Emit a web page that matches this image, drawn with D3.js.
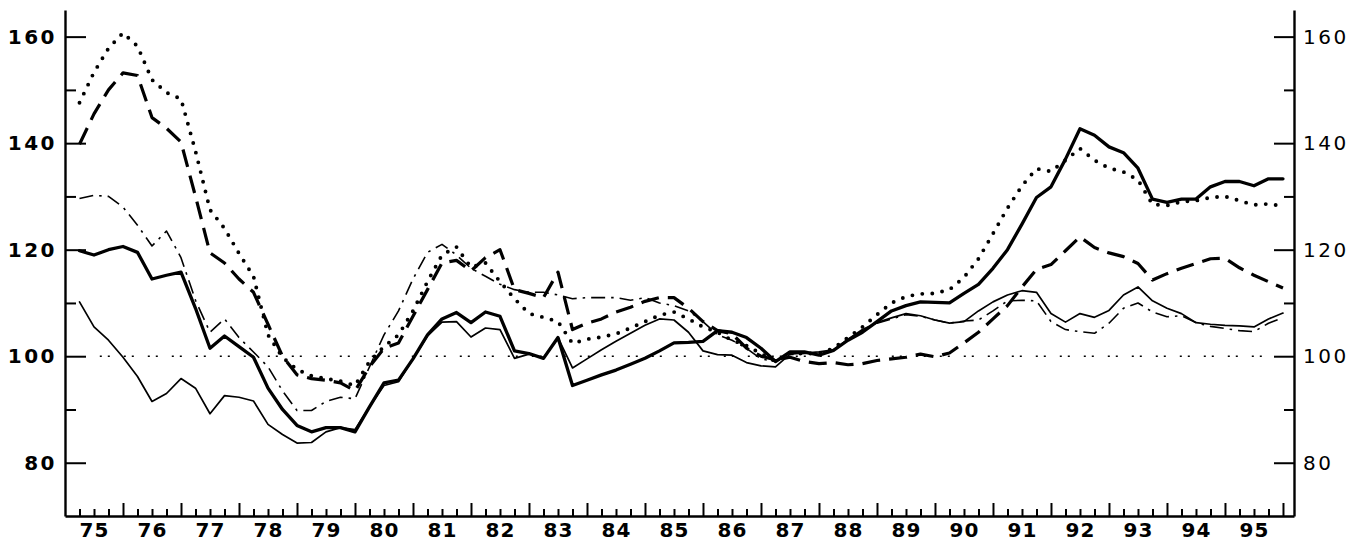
<!DOCTYPE html>
<html>
<head>
<meta charset="utf-8">
<script src="https://cdn.jsdelivr.net/npm/d3@7"></script>
<style>
  html, body { margin: 0; padding: 0; background: #fff; }
  svg { display: block; }
  .axis text { font-family: 'DejaVu Sans', sans-serif; fill: #000; }
</style>
</head>
<body>
<div id="chart"></div>
<script>
// quarterly index values, 75Q1 .. 95Q4 (84 quarters)
const years = ['75', '76', '77', '78', '79', '80', '81', '82', '83', '84', '85',
  '86', '87', '88', '89', '90', '91', '92', '93', '94', '95'];

const thickSolid = [
  119.8, 119.0, 120.0, 120.6, 119.5, 114.5, 115.2, 115.8,
  109, 101.5, 103.8, 101.8, 99.8, 94, 90, 87, 85.8, 86.6, 86.6, 85.8,
  90.5, 95, 95.5, 99.5, 104, 107, 108.2, 106.3, 108.3, 107.5, 101, 100.5,
  99.6, 103.5, 94.5, 95.5, 96.5, 97.4, 98.5, 99.6, 101, 102.5, 102.6, 102.8,
  104.8, 104.5, 103.5, 101.5, 99, 100.8, 100.8, 100.2, 101.1, 103, 104.5, 106.5,
  108.5, 109.5, 110.2, 110.1, 110, 111.8, 113.5, 116.5, 120, 124.8, 129.8, 131.8,
  137, 142.7, 141.5, 139.3, 138.2, 135.3, 129.5, 128.9, 129.5, 129.5, 131.8, 132.8,
  132.8, 132, 133.3, 133.3
];

const thinSolid = [
  110.2, 105.5, 103, 99.8, 96.2, 91.5, 93.0, 95.8,
  94.0, 89.2, 92.6, 92.3, 91.6, 87.2, 85.3, 83.7, 83.8, 85.8, 86.6, 86.2,
  90.5, 94.5, 95.2, 99.5, 103.8, 106.4, 106.5, 103.6, 105.3, 105, 99.6, 100.4,
  99.7, 103.5, 97.8, 99.5, 101.2, 102.8, 104.3, 105.8, 107, 106.8, 104.5, 101,
  100.3, 100.2, 98.8, 98.2, 98.0, 100.4, 100.6, 100.8, 101.2, 103.2, 105, 106.3,
  107.2, 108, 107.6, 106.8, 106.2, 106.5, 108.5, 110.2, 111.5, 112.3, 112, 108,
  106.4, 108, 107.3, 108.6, 111.5, 113, 110.4, 109, 108, 106.3, 106, 105.8,
  105.7, 105.5, 107, 108.1
];

const dotted = [
  147.6, 153.3, 157.8, 160.7, 158.2, 151.9, 149.5, 148.3,
  138.5, 127.5, 124, 119.3, 115, 104, 99.8, 97.5, 96.3, 95.8, 95.3, 94.5,
  99, 101.8, 104, 108.5, 114, 119, 120.5, 116.7, 117.5, 114, 110.8, 108,
  107.3, 106.5, 102.4, 103.2, 103.6, 104.2, 105.3, 106.5, 107.7, 108.3, 107, 105.5,
  104.5, 103, 102, 100.5, 99, 100.5, 100.5, 100.5, 101.5, 103.5, 105.5, 107.8,
  110, 111.2, 111.7, 111.8, 112.5, 114.8, 118.3, 123, 127.8, 132, 135.2, 134.7,
  136.8, 139, 136.8, 135.3, 134.6, 133.1, 128.5, 128.3, 129, 129.2, 129.8, 130,
  129.2, 128.4, 128.6, 128.2
];

const dashed = [
  139.8, 145.5, 150, 153.2, 152.7, 144.8, 142.8, 140.2,
  130, 119.4, 117.5, 114.5, 112, 106, 100, 96.5, 95.8, 95.5, 95, 93.5,
  98, 101.5, 102.5, 107.5, 112.5, 117.5, 118, 116, 118.5, 120, 112.5, 111.8,
  111, 115.8, 105, 106.2, 107, 108.3, 109.2, 110.3, 111, 111, 109, 106.5,
  104.8, 104.2, 101.5, 100, 99.3, 99.8, 99, 98.6, 98.8, 98.4, 98.6, 99.2,
  99.5, 99.8, 100.4, 99.9, 100.6, 102.5, 104.5, 107, 109.5, 113, 116.3, 117.2,
  119.8, 122.4, 120.4, 119.4, 118.7, 117.4, 114.3, 115.5, 116.5, 117.4, 118.3, 118.4,
  116.6, 115.2, 114, 112.8
];

const dashDot = [
  129.6, 130.2, 130, 128, 124.6, 120.7, 123.5, 118.5,
  110.5, 104.5, 107, 103.5, 100.8, 98, 93.5, 89.8, 89.8, 91.5, 92.3, 92,
  98, 104, 108.5, 114.5, 119.5, 121, 119, 116.5, 115, 113.5, 112.5, 112,
  112, 111.5, 110.8, 111, 111, 111, 110.5, 111, 110, 109.5, 108.5, 106.5,
  104, 103, 101.5, 99.5, 99, 100.3, 100.5, 100.5, 101, 103.2, 104.8, 106.2,
  107, 107.8, 107.5, 106.8, 106.2, 106.6, 106.8, 108.5, 110.4, 110.5, 110.4, 106.5,
  105, 104.6, 104.3, 106.2, 109, 110, 108.3, 107.4, 107.6, 106.3, 105.6, 105.2,
  104.8, 104.6, 106.2, 107.2
];

const majorY = [80, 100, 120, 140, 160];
const minorY = [90, 110, 130, 150];

const width = 1369;
const height = 541;

const svg = d3.select('#chart')
  .append('svg')
  .attr('width', width)
  .attr('height', height);

const x = d3.scaleLinear().domain([75, 96.19]).range([65, 1294]);
const y = d3.scaleLinear().domain([70, 165]).range([516, 10]);

// quarter i (0-based index) plotted at end of quarter
const qx = i => x(75 + (i + 1) / 4);

// reference line at 100
svg.append('line')
  .attr('x1', x(75.6))
  .attr('x2', x(95.8))
  .attr('y1', y(100))
  .attr('y2', y(100))
  .attr('stroke', '#000')
  .attr('stroke-width', 1.6)
  .attr('stroke-dasharray', '2 6 2 14');

const line = d3.line()
  .x((d, i) => qx(i))
  .y(d => y(d));

const series = [
  { values: dashDot, width: 1.6, dash: '14 6 2.5 6', cap: 'butt' },
  { values: dashed, width: 3.2, dash: '18 9', cap: 'butt' },
  { values: dotted, width: 3.9, dash: '0 10', cap: 'round' },
  { values: thinSolid, width: 1.7, dash: null, cap: 'round' },
  { values: thickSolid, width: 3.3, dash: null, cap: 'round' }
];

svg.selectAll('path.series')
  .data(series)
  .enter()
  .append('path')
  .attr('class', 'series')
  .attr('d', d => line(d.values))
  .attr('fill', 'none')
  .attr('stroke', '#000')
  .attr('stroke-width', d => d.width)
  .attr('stroke-linejoin', 'round')
  .attr('stroke-linecap', d => d.cap)
  .attr('stroke-dasharray', d => d.dash);

// left axis, ticks point inwards
const leftAxis = svg.append('g')
  .attr('class', 'axis')
  .attr('transform', `translate(${x(75)},0)`)
  .call(d3.axisLeft(y).tickValues(majorY).tickSizeInner(-21).tickSizeOuter(0).tickPadding(8));
leftAxis.selectAll('text')
  .style('font-size', '20px')
  .style('font-weight', 'bold')
  .style('letter-spacing', '2.5px');
svg.append('g')
  .attr('transform', `translate(${x(75)},0)`)
  .call(d3.axisLeft(y).tickValues(minorY).tickSizeInner(-11).tickSizeOuter(0).tickFormat(''))
  .call(g => g.select('.domain').remove());

// right axis
const rightAxis = svg.append('g')
  .attr('class', 'axis')
  .attr('transform', `translate(${x(96.19)},0)`)
  .call(d3.axisRight(y).tickValues(majorY).tickSizeInner(-20).tickSizeOuter(0).tickPadding(9));
rightAxis.selectAll('text')
  .style('font-size', '20px')
  .style('letter-spacing', '2.5px');
svg.append('g')
  .attr('transform', `translate(${x(96.19)},0)`)
  .call(d3.axisRight(y).tickValues(minorY).tickSizeInner(-10).tickSizeOuter(0).tickFormat(''))
  .call(g => g.select('.domain').remove());

// bottom axis: quarter ticks, taller at year boundaries
const quarterTicks = d3.range(1, 85).map(i => 75 + i / 4);
svg.append('g')
  .attr('transform', `translate(0,${y(70)})`)
  .call(d3.axisBottom(x).tickValues(quarterTicks.filter(t => t % 1 !== 0)).tickSizeInner(-7).tickSizeOuter(0).tickFormat(''));
svg.append('g')
  .attr('transform', `translate(0,${y(70)})`)
  .call(d3.axisBottom(x).tickValues(quarterTicks.filter(t => t % 1 === 0)).tickSizeInner(-13).tickSizeOuter(0).tickFormat(''))
  .call(g => g.select('.domain').remove());

const bottomLabels = svg.append('g')
  .attr('class', 'axis')
  .attr('transform', `translate(0,${y(70)})`)
  .call(d3.axisBottom(x).tickValues(years.map(d => +d + 0.5)).tickSize(0).tickPadding(7).tickFormat(d => String(Math.floor(d))))
  .call(g => g.select('.domain').remove());
bottomLabels.selectAll('text')
  .style('font-size', '20px')
  .style('font-weight', 'bold')
  .style('letter-spacing', '1px');

svg.selectAll('.domain').attr('stroke-width', 2.4);
svg.selectAll('.tick line').attr('stroke-width', 2);
</script>
</body>
</html>
